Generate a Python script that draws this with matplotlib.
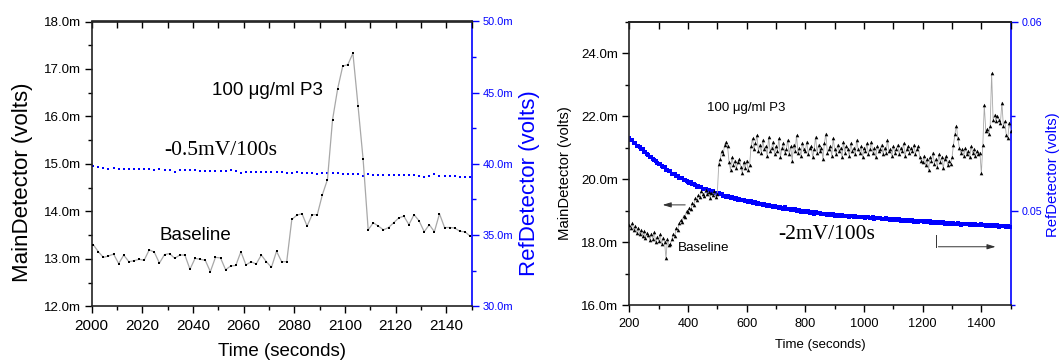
import matplotlib
matplotlib.use("Agg")
import matplotlib.pyplot as plt
from matplotlib.ticker import MultipleLocator, FuncFormatter
import numpy as np

plt.rcParams['font.family'] = ['Liberation Sans', 'DejaVu Sans']

# ---- left panel: short run around the P3 injection (values in mV) ----
t_short = np.arange(75) * 2.01 + 2000.6
main_short = [13.30, 13.15, 13.03, 13.06, 13.10, 12.90, 13.08, 12.94, 12.96, 12.99,
              12.97, 13.19, 13.14, 12.91, 13.09, 13.11, 13.01, 13.08, 13.08, 12.78,
              13.01, 12.99, 12.97, 12.73, 13.03, 13.02, 12.77, 12.85, 12.86, 13.15,
              12.87, 12.94, 12.89, 13.08, 12.94, 12.82, 13.16, 12.94, 12.94, 13.83,
              13.92, 13.95, 13.69, 13.93, 13.93, 14.35, 14.67, 15.93, 16.58, 17.06,
              17.09, 17.33, 16.23, 15.10, 13.61, 13.76, 13.69, 13.61, 13.66, 13.76,
              13.86, 13.90, 13.72, 13.93, 13.80, 13.57, 13.72, 13.57, 13.95, 13.66,
              13.66, 13.65, 13.58, 13.57, 13.48]
ref_short = [39.87, 39.80, 39.72, 39.66, 39.68, 39.66, 39.66, 39.64, 39.62, 39.66,
             39.63, 39.62, 39.60, 39.62, 39.60, 39.55, 39.45, 39.55, 39.57, 39.57,
             39.55, 39.52, 39.50, 39.53, 39.52, 39.50, 39.52, 39.54, 39.48, 39.36,
             39.42, 39.45, 39.44, 39.44, 39.43, 39.42, 39.45, 39.40, 39.38, 39.39,
             39.40, 39.37, 39.36, 39.38, 39.27, 39.35, 39.33, 39.34, 39.33, 39.30,
             39.31, 39.30, 39.27, 39.16, 39.26, 39.25, 39.24, 39.22, 39.25, 39.24,
             39.21, 39.22, 39.20, 39.19, 39.17, 39.06, 39.15, 39.26, 39.14, 39.15,
             39.13, 39.12, 39.10, 39.11, 39.10]

# ---- right panel: long run, 5 s sampling (MainDetector in mV, RefDetector in mV) ----
t_long = np.arange(200, 1501, 5)
main_long = [
    18.55, 18.45, 18.60, 18.40, 18.52, 18.30, 18.45, 18.25, 18.38, 18.20, 18.35, 18.15, 18.30, 18.22, 18.08, 18.28, 18.12, 18.32, 18.00, 18.18,
    18.05, 18.25, 17.95, 18.15, 18.02, 17.49, 18.10, 17.90, 17.95, 18.10, 18.25, 18.20, 18.45, 18.40, 18.60, 18.70, 18.65, 18.85, 18.80, 19.00,
    18.95, 19.10, 19.05, 19.25, 19.20, 19.40, 19.35, 19.50, 19.45, 19.62, 19.55, 19.48, 19.65, 19.52, 19.60, 19.42, 19.58, 19.50, 19.62, 19.45,
    19.55, 20.50, 20.65, 20.90, 20.80, 21.10, 21.20, 21.05, 20.55, 20.30, 20.70, 20.45, 20.60, 20.35, 20.55, 20.65, 20.40, 20.20, 20.55, 20.35,
    20.60, 20.30, 20.45, 21.05, 21.30, 20.95, 21.15, 21.40, 20.90, 21.10, 20.85, 21.25, 20.95, 21.05, 20.75, 21.35, 20.90, 21.00, 21.20, 20.80,
    21.05, 20.90, 21.30, 20.70, 21.00, 21.15, 20.85, 20.95, 21.25, 20.80, 21.05, 20.60, 21.10, 20.90, 21.40, 20.85, 21.00, 20.75, 21.15, 20.95,
    20.90, 21.20, 20.80, 21.00, 21.05, 20.70, 20.95, 21.35, 20.85, 21.10, 20.90, 21.00, 20.65, 21.15, 21.45, 20.85, 20.95, 21.05, 20.75, 21.30,
    20.95, 20.80, 21.10, 20.90, 21.00, 20.70, 21.20, 20.85, 21.05, 20.95, 20.75, 21.15, 20.90, 21.00, 20.80, 21.25, 20.95, 20.85, 21.05, 20.70,
    21.00, 20.90, 21.15, 20.80, 20.95, 21.20, 20.85, 21.00, 20.70, 21.05, 20.90, 20.95, 21.10, 20.80, 21.00, 20.85, 21.25, 20.90, 20.95, 20.75,
    21.05, 20.85, 20.95, 21.10, 20.80, 21.00, 20.90, 21.15, 20.75, 20.95, 21.05, 20.85, 21.00, 20.90, 21.10, 20.80, 20.95, 21.05, 20.70, 20.60,
    20.55, 20.75, 20.45, 20.65, 20.30, 20.70, 20.60, 20.85, 20.50, 20.65, 20.40, 20.80, 20.55, 20.70, 20.35, 20.65, 20.75, 20.45, 20.60, 20.50,
    20.70, 21.10, 21.45, 21.70, 21.30, 21.00, 20.85, 20.95, 20.75, 21.00, 20.80, 20.90, 20.70, 21.05, 20.85, 20.95, 20.75, 20.90, 20.80, 20.85,
    20.19, 21.10, 22.36, 21.55, 21.60, 21.45, 21.70, 23.37, 21.90, 22.05, 21.85, 22.00, 21.90, 21.80, 22.44, 21.70, 21.85, 21.40, 21.30, 21.80,
    21.55]
ref_long = [
    53.88, 53.76, 53.75, 53.61, 53.58, 53.45, 53.45, 53.36, 53.25, 53.25, 53.14, 53.13, 52.99, 52.96, 52.85, 52.86, 52.73, 52.68, 52.65, 52.52,
    52.48, 52.48, 52.35, 52.34, 52.30, 52.18, 52.18, 52.10, 52.10, 51.97, 51.96, 51.93, 51.83, 51.85, 51.76, 51.75, 51.74, 51.63, 51.61, 51.60,
    51.55, 51.47, 51.51, 51.41, 51.40, 51.39, 51.28, 51.31, 51.25, 51.27, 51.17, 51.18, 51.16, 51.07, 51.11, 51.03, 51.02, 51.05, 50.94, 50.96,
    50.89, 50.92, 50.87, 50.89, 50.80, 50.81, 50.74, 50.79, 50.75, 50.69, 50.75, 50.67, 50.64, 50.66, 50.58, 50.64, 50.59, 50.55, 50.59, 50.51,
    50.54, 50.46, 50.49, 50.50, 50.43, 50.44, 50.46, 50.37, 50.40, 50.36, 50.39, 50.29, 50.35, 50.31, 50.27, 50.32, 50.25, 50.26, 50.20, 50.24,
    50.20, 50.23, 50.15, 50.19, 50.16, 50.10, 50.18, 50.10, 50.12, 50.11, 50.05, 50.08, 50.05, 50.08, 50.01, 50.02, 50.04, 49.95, 50.00, 49.96,
    49.98, 49.93, 49.98, 49.90, 49.92, 49.92, 49.86, 49.92, 49.87, 49.89, 49.90, 49.82, 49.84, 49.81, 49.85, 49.80, 49.83, 49.76, 49.80, 49.82,
    49.75, 49.78, 49.80, 49.74, 49.76, 49.79, 49.73, 49.71, 49.75, 49.74, 49.68, 49.74, 49.71, 49.68, 49.75, 49.68, 49.70, 49.65, 49.68, 49.67,
    49.68, 49.62, 49.66, 49.68, 49.62, 49.63, 49.65, 49.58, 49.62, 49.60, 49.62, 49.62, 49.56, 49.58, 49.56, 49.61, 49.55, 49.57, 49.51, 49.57,
    49.53, 49.56, 49.51, 49.52, 49.56, 49.48, 49.51, 49.52, 49.45, 49.50, 49.51, 49.46, 49.45, 49.50, 49.43, 49.45, 49.46, 49.40, 49.44, 49.46,
    49.44, 49.40, 49.44, 49.40, 49.40, 49.44, 49.36, 49.40, 49.36, 49.41, 49.34, 49.39, 49.38, 49.35, 49.39, 49.32, 49.35, 49.37, 49.32, 49.38,
    49.32, 49.36, 49.33, 49.29, 49.34, 49.33, 49.27, 49.33, 49.33, 49.29, 49.28, 49.33, 49.26, 49.28, 49.30, 49.27, 49.30, 49.23, 49.27, 49.24,
    49.29, 49.24, 49.27, 49.21, 49.24, 49.26, 49.21, 49.27, 49.19, 49.23, 49.21, 49.24, 49.17, 49.22, 49.20, 49.18, 49.22, 49.16, 49.19, 49.17,
    49.16]

BLUE = '#0000ff'
LINE_GRAY = '#a8a8a8'
W, H = 1062, 361

fig = plt.figure(figsize=(W / 100, H / 100), dpi=100)


def style_axes(ax, ax2, lab_x, lab_y, lab_r):
    for s in ('left', 'bottom', 'top'):
        ax.spines[s].set_linewidth(1.2)
        ax.spines[s].set_color('#222222')
    ax.spines['right'].set_visible(False)
    for s in ('left', 'bottom', 'top'):
        ax2.spines[s].set_visible(False)
    ax2.spines['right'].set_color(BLUE)
    ax2.spines['right'].set_linewidth(1.2)
    ax.tick_params(axis='x', which='major', length=5, width=1, labelsize=lab_x, pad=4)
    ax.tick_params(axis='x', which='minor', length=3, width=1)
    ax.tick_params(axis='y', which='major', length=5, width=1, labelsize=lab_y, pad=3)
    ax.tick_params(axis='y', which='minor', length=3, width=1)
    ax2.tick_params(axis='y', which='major', length=5, width=1, colors=BLUE, labelsize=lab_r, pad=3)
    ax2.tick_params(axis='y', which='minor', length=3, width=1, colors=BLUE)
    top = ax.secondary_xaxis('top')
    top.tick_params(which='both', direction='in', labeltop=False, length=5, width=1)
    top.spines['top'].set_linewidth(1.2)
    top.spines['top'].set_color('#222222')
    return top


# ---------------- left panel ----------------
axL = fig.add_axes([91.7 / W, 1 - 306.3 / H, 380 / W, 284.8 / H])
axL2 = axL.twinx()
axL.plot(t_short, main_short, color=LINE_GRAY, lw=0.9, marker='s', ms=1.6,
         mfc='black', mec='black', mew=0, zorder=3)
axL2.plot(t_short, ref_short, ls='none', marker='s', ms=1.7, mfc=BLUE, mec=BLUE, mew=0)
axL.set_zorder(axL2.get_zorder() + 1)
axL.patch.set_visible(False)

axL.set_xlim(2000, 2150)
axL.set_ylim(12, 18)
axL2.set_ylim(30, 50)
axL.xaxis.set_major_locator(MultipleLocator(20))
axL.xaxis.set_minor_locator(MultipleLocator(10))
axL.yaxis.set_major_locator(MultipleLocator(1))
axL.yaxis.set_minor_locator(MultipleLocator(0.5))
axL2.yaxis.set_major_locator(MultipleLocator(5))
axL2.yaxis.set_minor_locator(MultipleLocator(2.5))
axL.yaxis.set_major_formatter(FuncFormatter(lambda v, p: f'{v:.1f}m'))
axL2.yaxis.set_major_formatter(FuncFormatter(lambda v, p: f'{v:.1f}m'))
topL = style_axes(axL, axL2, 11, 9.6, 7.9)
topL.xaxis.set_major_locator(MultipleLocator(10))

axL.text(2069.5, 16.54, '100 μg/ml P3', fontsize=13.5, ha='center', va='center')
axL.text(2051, 15.29, '-0.5mV/100s', fontsize=15.5, family='Liberation Serif',
         ha='center', va='center')
axL.text(2041, 13.50, 'Baseline', fontsize=13.5, ha='center', va='center')

fig.text(23 / W, 1 - 182.5 / H, 'MainDetector (volts)', rotation=90,
         fontsize=16, ha='center', va='center')
fig.text(530 / W, 1 - 183 / H, 'RefDetector (volts)', rotation=90,
         fontsize=16, color=BLUE, ha='center', va='center')
fig.text(282 / W, 1 - 352 / H, 'Time (seconds)', fontsize=13.5,
         ha='center', va='center')

# ---------------- right panel ----------------
axR = fig.add_axes([629.3 / W, 1 - 305.3 / H, 381.4 / W, 283.3 / H])
axR2 = axR.twinx()
axR2.plot(t_long, np.array(ref_long) / 1000, ls='none', marker='s', ms=2.5,
          mfc=BLUE, mec=BLUE, mew=0)
axR.plot(t_long, main_long, color=LINE_GRAY, lw=0.6, marker='^', ms=2.6,
         mfc='black', mec='black', mew=0, zorder=3)
axR.set_zorder(axR2.get_zorder() + 1)
axR.patch.set_visible(False)

axR.set_xlim(200, 1500)
axR.set_ylim(16, 25)
axR2.set_ylim(0.045, 0.06)
axR.xaxis.set_major_locator(MultipleLocator(200))
axR.xaxis.set_minor_locator(MultipleLocator(100))
axR.yaxis.set_major_locator(MultipleLocator(2))
axR.yaxis.set_minor_locator(MultipleLocator(1))
axR2.yaxis.set_major_locator(MultipleLocator(0.01))
axR2.yaxis.set_minor_locator(MultipleLocator(0.005))
axR.yaxis.set_major_formatter(FuncFormatter(lambda v, p: f'{v:.1f}m'))
axR2.yaxis.set_major_formatter(FuncFormatter(lambda v, p: f'{v:.2f}'))
topR = style_axes(axR, axR2, 9.2, 9.6, 7.7)
topR.xaxis.set_major_locator(MultipleLocator(100))

axR.text(597.7, 22.27, '100 μg/ml P3', fontsize=9.5, ha='center', va='center')
axR.text(454.6, 17.82, 'Baseline', fontsize=9.6, ha='center', va='center')
axR.text(873.8, 18.26, '-2mV/100s', fontsize=15.5, family='Liberation Serif',
         ha='center', va='center')

arrow_kw = dict(arrowstyle='-|>,head_length=0.5,head_width=0.15', color='#333333', lw=0.7)
axR.annotate('', xy=(304, 19.19), xytext=(400, 19.19), arrowprops=arrow_kw)
axR.plot([1244, 1244], [18.23, 17.86], color='#333333', lw=0.7)
axR.annotate('', xy=(1458, 17.86), xytext=(1244, 17.86), arrowprops=arrow_kw)

fig.text(564.5 / W, 1 - 173 / H, 'MainDetector (volts)', rotation=90,
         fontsize=10.7, ha='center', va='center')
fig.text(1053 / W, 1 - 175 / H, 'RefDetector (volts)', rotation=90,
         fontsize=10.7, color=BLUE, ha='center', va='center')
fig.text(820 / W, 1 - 345 / H, 'Time (seconds)', fontsize=9.5,
         ha='center', va='center')

fig.savefig('out.png', dpi=100)
